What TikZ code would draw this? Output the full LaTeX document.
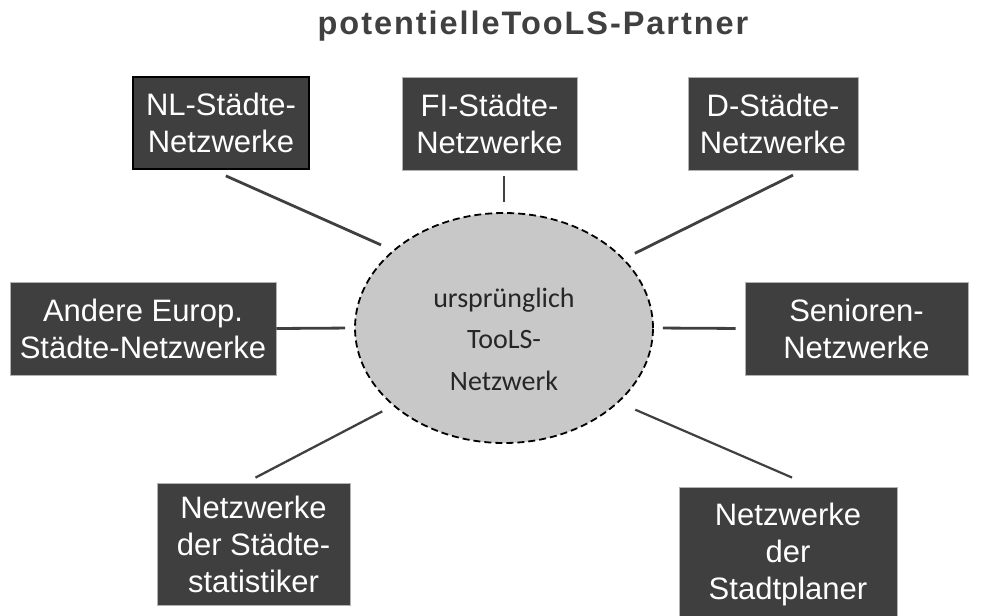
\documentclass[tikz,border=0pt]{standalone}
\usepackage{fontspec}
\setmainfont{Liberation Sans}
\newfontfamily\calibrifont{Carlito}
\newfontfamily\titlefont[LetterSpace=6]{Liberation Sans}
\usetikzlibrary{shapes.geometric,calc}
\definecolor{boxgray}{HTML}{3F3F3F}
\definecolor{ellgray}{HTML}{C8C8C8}
\definecolor{linegray}{HTML}{404040}

\begin{document}
\begin{tikzpicture}[x=1pt,y=-1pt,
    partner/.style={fill=boxgray,draw=gray!60,line width=0.6pt,text=white,align=center,
        inner sep=0pt,font=\fontsize{31}{37}\selectfont},
    link/.style={draw=linegray,line width=2.8pt}]
    \useasboundingbox (0,0) rectangle (981,615);

    \node[font=\titlefont\bfseries\fontsize{32.5}{37}\selectfont,text=linegray,anchor=base] (title) at (533,35) {potentielleTooLS-Partner};

    % partner boxes
    \node[partner,draw=black,line width=1.5pt,minimum width=176pt,minimum height=92pt] (nl) at (221,123) {NL-Städte-\\Netzwerke};
    \node[partner,minimum width=175pt,minimum height=93pt] (fi) at (489.5,123.5) {FI-Städte-\\Netzwerke};
    \node[partner,minimum width=170pt,minimum height=93pt] (d) at (773,123.5) {D-Städte-\\Netzwerke};
    \node[partner,minimum width=266pt,minimum height=93pt] (andere) at (143,328.5) {Andere Europ.\\Städte-Netzwerke};
    \node[partner,minimum width=223pt,minimum height=93pt] (senioren) at (856.5,328.5) {Senioren-\\Netzwerke};
    \node[partner,minimum width=193pt,minimum height=122pt] (stat) at (253.5,544) {Netzwerke\\der Städte-\\statistiker};
    \node[partner,minimum width=218pt,minimum height=134pt] (plan) at (788,554) {Netzwerke\\der\\Stadtplaner};

    % original network
    \node[ellipse,draw=black,dash pattern=on 7pt off 4pt,line width=1.8pt,fill=ellgray,
        minimum width=298pt,minimum height=230pt,inner sep=0pt] (ell) at (504,328) {};
    \node[align=center,font=\calibrifont\fontsize{28}{41.5}\selectfont,text=black!85] (elltext) at (504,339) {ursprünglich\\TooLS-\\Netzwerk};

    % connectors
    \draw[link,shorten <=15pt,shorten >=13pt] ($(nl.south)!0.1!(nl.south west)$) -- (ell.145);
    \draw[link,line width=2pt,shorten <=6pt,shorten >=10pt] (ell.north |- fi.south) -- (ell.north);
    \draw[link,shorten <=11pt,shorten >=12pt] ($(d.south)!0.35!(d.south east)$) -- (ell.30);
    \draw[link,shorten >=9pt] (andere.east) -- (ell.west);
    \draw[link,shorten <=9pt,shorten >=9pt] (ell.east) -- (senioren.west);
    \draw[link,line width=2.3pt,shorten <=11pt,shorten >=12pt] ($(stat.north)!0.08!(stat.north west)$) -- (ell.215);
    \draw[link,line width=2.2pt,shorten <=23pt,shorten >=18pt] ($(plan.north)!0.23!(plan.north east)$) -- (ell.327);
\end{tikzpicture}
\end{document}
